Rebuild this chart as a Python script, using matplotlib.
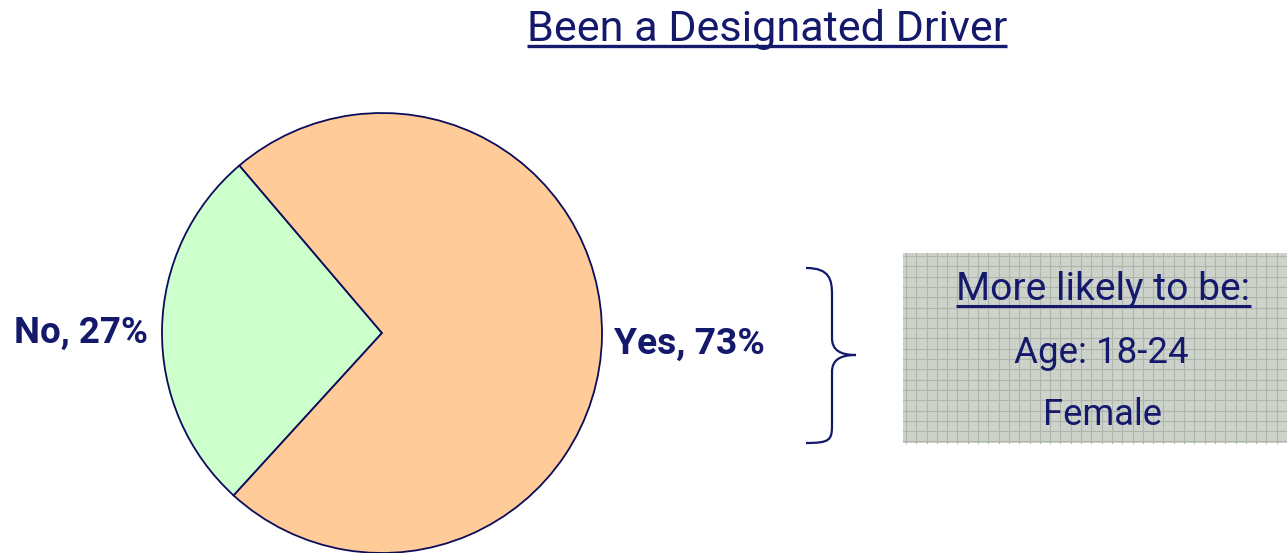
import matplotlib
matplotlib.use("Agg")
import matplotlib.pyplot as plt
from matplotlib.path import Path
from matplotlib.patches import PathPatch, Rectangle

# ---- data ----
categories = ["No", "Yes"]
values = [27, 73]
title = "Been a Designated Driver"
box_lines = ["More likely to be:", "Age: 18-24", "Female"]

W, H = 1287, 553
NAVY = "#14196b"
FONT = "Roboto"
fig = plt.figure(figsize=(W / 100, H / 100), dpi=100)
ax = fig.add_axes([0, 0, 1, 1])

def Y(y):  # convert top-origin pixel y to data y
    return H - y

wedges, _ = ax.pie(values, colors=["#CCFFCC", "#FFCC99"], startangle=130.4,
                   counterclock=True, center=(382, Y(333)), radius=220,
                   wedgeprops=dict(edgecolor="#0c0c5c", linewidth=1.3))
ax.set_xlim(0, W)
ax.set_ylim(0, H)
ax.set_aspect("auto")
ax.axis("off")

fig.canvas.draw()
renderer = fig.canvas.get_renderer()

def fit_text(s, x0, x1, baseline, weight="normal", zorder=3):
    t = ax.text((x0 + x1) / 2, Y(baseline), s, ha="center", va="baseline",
                fontsize=20, fontweight=weight, color=NAVY, family=FONT,
                zorder=zorder)
    for _ in range(3):
        w = t.get_window_extent(renderer).width
        t.set_fontsize(t.get_fontsize() * (x1 - x0) / w)
    return t

# title
fit_text(title, 527, 1007, 41)
ax.plot([527, 1007], [Y(46), Y(46)], color=NAVY, lw=2.4, solid_capstyle="butt")

# pie labels
fit_text(f"{categories[0]}, {values[0]}%", 14, 148, 343, weight="bold")
fit_text(f"{categories[1]}, {values[1]}%", 614, 765, 354, weight="bold")

# brace
verts = [(806, Y(268)), (830, Y(268)), (832, Y(280)), (832, Y(295)),
         (832, Y(338)),
         (832, Y(350)), (840, Y(355)), (856, Y(355)),
         (840, Y(355)), (832, Y(360)), (832, Y(372)),
         (832, Y(425)),
         (832, Y(440)), (830, Y(443)), (806, Y(443))]
codes = [Path.MOVETO, Path.CURVE4, Path.CURVE4, Path.CURVE4,
         Path.LINETO,
         Path.CURVE4, Path.CURVE4, Path.CURVE4,
         Path.CURVE4, Path.CURVE4, Path.CURVE4,
         Path.LINETO,
         Path.CURVE4, Path.CURVE4, Path.CURVE4]
ax.add_patch(PathPatch(Path(verts, codes), fill=False, edgecolor=NAVY, lw=1.6))

# grid box
bx0, bx1, by0, by1 = 903, 1287, 253, 443
ax.add_patch(Rectangle((bx0, Y(by1)), bx1 - bx0, by1 - by0, facecolor="#CDD2CB",
                       edgecolor="none", zorder=1))
x = bx0 + 3
while x < bx1:
    ax.plot([x, x], [Y(by0), Y(by1)], color="#AEB6AC", lw=0.8, zorder=1.1)
    x += 10.3
y = by0 + 3
while y < by1:
    ax.plot([bx0, bx1], [Y(y), Y(y)], color="#AEB6AC", lw=0.8, zorder=1.1)
    y += 10.3

spans = [(956, 1250, 300), (1014, 1189, 363), (1043, 1162, 425)]
for line, (a, b, base) in zip(box_lines, spans):
    fit_text(line, a, b, base)
ax.plot([956, 1251], [Y(305.5), Y(305.5)], color=NAVY, lw=2.2, zorder=3,
        solid_capstyle="butt")

fig.savefig("out.png", dpi=100)
